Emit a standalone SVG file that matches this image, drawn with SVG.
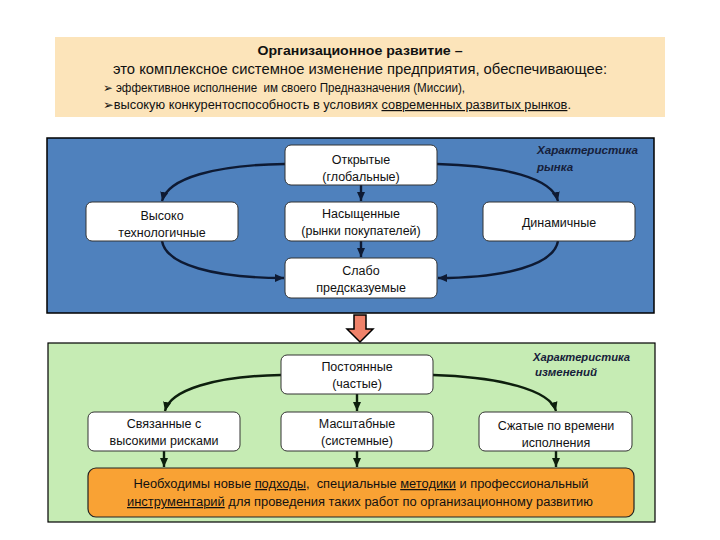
<svg xmlns="http://www.w3.org/2000/svg" width="720" height="540" viewBox="0 0 720 540">
<defs>
<style>
.t{font-family:"Liberation Sans",Arial,sans-serif;fill:#111;}
.c{text-anchor:middle;font-size:12.5px;}
.node{fill:#fff;stroke:#333;stroke-width:1;}
.lbl{font-family:"Liberation Sans",Arial,sans-serif;font-style:italic;font-weight:bold;font-size:11.5px;fill:#16203a;}
.cb{fill:none;stroke:#0e1a33;stroke-width:2.4;}
.cg{fill:none;stroke:#0d1f0d;stroke-width:2.4;}
</style>
<marker id="ab" markerUnits="userSpaceOnUse" markerWidth="10" markerHeight="10" viewBox="0 0 10 10" refX="9" refY="5" orient="auto">
<path d="M0,1 L9,5 L0,9 Z" fill="#0e1a33"/>
</marker>
<marker id="ag" markerUnits="userSpaceOnUse" markerWidth="10" markerHeight="10" viewBox="0 0 10 10" refX="9" refY="5" orient="auto">
<path d="M0,1 L9,5 L0,9 Z" fill="#0d1f0d"/>
</marker>
</defs>
<rect width="720" height="540" fill="#fff"/>

<g id="header">
<rect x="55" y="37" width="610" height="80" fill="#fce4ba"/>
<text class="t" x="360" y="55" text-anchor="middle" font-size="13.5" font-weight="bold" textLength="205" lengthAdjust="spacingAndGlyphs">Организационное развитие –</text>
<text class="t" x="360" y="74" text-anchor="middle" font-size="14" textLength="494" lengthAdjust="spacingAndGlyphs">это комплексное системное изменение предприятия, обеспечивающее:</text>
<text class="t" x="103" y="92" font-size="12" xml:space="preserve" textLength="362" lengthAdjust="spacingAndGlyphs">➢ эффективное исполнение  им своего Предназначения (Миссии),</text>
<text class="t" x="103" y="109" font-size="12" textLength="468" lengthAdjust="spacingAndGlyphs">➢высокую конкурентоспособность в условиях <tspan text-decoration="underline">современных развитых рынков</tspan>.</text>
</g>

<g id="panel-market">
<rect x="47" y="138" width="607" height="175" fill="#4f81bd" stroke="#000" stroke-width="1.5"/>
<text class="lbl" x="537" y="154" textLength="101" lengthAdjust="spacingAndGlyphs">Характеристика</text>
<text class="lbl" x="537" y="171">рынка</text>
</g>

<g id="panel-changes">
<rect x="48" y="343" width="607" height="179" fill="#c6ecb4" stroke="#000" stroke-width="1.2"/>
<text class="lbl" x="533" y="361" textLength="97" lengthAdjust="spacingAndGlyphs">Характеристика</text>
<text class="lbl" x="535" y="376">изменений</text>
</g>

<g id="connectors">
<path class="cb" d="M285,164 C215,165 168,178 162,201" marker-end="url(#ab)"/>
<path class="cb" d="M437,164 C505,166 552,178 558,201" marker-end="url(#ab)"/>
<path class="cb" d="M361,185 L361,201" marker-end="url(#ab)"/>
<path class="cb" d="M361,241 L361,257" marker-end="url(#ab)"/>
<path class="cb" d="M162,241 C166,265 215,278 284,278" marker-end="url(#ab)"/>
<path class="cb" d="M558,241 C554,265 505,278 438,278" marker-end="url(#ab)"/>
<path class="cg" d="M281,375 C215,376 170,390 165,411" marker-end="url(#ag)"/>
<path class="cg" d="M433,375 C500,377 550,390 556,411" marker-end="url(#ag)"/>
<path class="cg" d="M357,394 L357,411" marker-end="url(#ag)"/>
<path class="cg" d="M164,451 L164,467" marker-end="url(#ag)"/>
<path class="cg" d="M357,451 L357,467" marker-end="url(#ag)"/>
<path class="cg" d="M556,451 L556,467" marker-end="url(#ag)"/>
<path d="M354,315 L366,315 L366,329 L373,329 L360,342 L347,329 L354,329 Z" fill="#f0826a" stroke="#000" stroke-width="1.5" stroke-linejoin="miter"/>
</g>

<g id="n-open">
<rect class="node" x="285" y="145" width="152" height="40" rx="6"/>
<text class="t c" x="361" y="164">Открытые</text>
<text class="t c" x="361" y="181">(глобальные)</text>
</g>
<g id="n-hitech">
<rect class="node" x="86" y="202" width="152" height="39" rx="6"/>
<text class="t c" x="162" y="220">Высоко</text>
<text class="t c" x="162" y="237">технологичные</text>
</g>
<g id="n-saturated">
<rect class="node" x="285" y="202" width="152" height="39" rx="6"/>
<text class="t c" x="361" y="218">Насыщенные</text>
<text class="t c" x="361" y="235">(рынки покупателей)</text>
</g>
<g id="n-dynamic">
<rect class="node" x="483" y="202" width="152" height="39" rx="6"/>
<text class="t c" x="559" y="227">Динамичные</text>
</g>
<g id="n-unpredict">
<rect class="node" x="285" y="258" width="152" height="40" rx="6"/>
<text class="t c" x="361" y="275">Слабо</text>
<text class="t c" x="361" y="292">предсказуемые</text>
</g>

<g id="n-permanent">
<rect class="node" x="281" y="355" width="152" height="39" rx="6"/>
<text class="t c" x="357" y="371">Постоянные</text>
<text class="t c" x="357" y="388">(частые)</text>
</g>
<g id="n-risk">
<rect class="node" x="88" y="412" width="152" height="39" rx="6"/>
<text class="t c" x="164" y="428">Связанные с</text>
<text class="t c" x="164" y="445">высокими рисками</text>
</g>
<g id="n-scale">
<rect class="node" x="281" y="412" width="152" height="39" rx="6"/>
<text class="t c" x="357" y="428">Масштабные</text>
<text class="t c" x="357" y="445">(системные)</text>
</g>
<g id="n-time">
<rect class="node" x="479" y="412" width="153" height="39" rx="6"/>
<text class="t c" x="556" y="430">Сжатые по времени</text>
<text class="t c" x="556" y="447">исполнения</text>
</g>

<g id="n-needs">
<rect x="88" y="468" width="546" height="49" rx="8" fill="#f9a234" stroke="#222" stroke-width="1.2"/>
<text class="t" x="361" y="488" text-anchor="middle" font-size="12.5" xml:space="preserve" textLength="455" lengthAdjust="spacingAndGlyphs">Необходимы новые <tspan text-decoration="underline">подходы</tspan>,  специальные <tspan text-decoration="underline">методики</tspan> и профессиональный</text>
<text class="t" x="360" y="506" text-anchor="middle" font-size="12.5" textLength="466" lengthAdjust="spacingAndGlyphs"><tspan text-decoration="underline">инструментарий</tspan> для проведения таких работ по организационному развитию</text>
</g>
</svg>
